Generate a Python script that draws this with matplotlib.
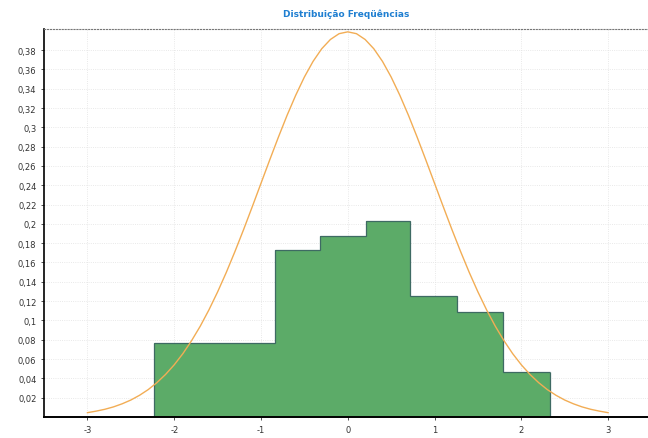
import matplotlib.pyplot as plt
from matplotlib.ticker import FuncFormatter

plt.rcParams["axes.unicode_minus"] = False

# histogram bins (edges) and relative frequencies
bin_edges = [-2.235, -0.84, -0.32, 0.215, 0.72, 1.26, 1.79, 2.33]
freqs = [0.077, 0.173, 0.187, 0.203, 0.125, 0.109, 0.047]

# normal curve points
curve_x = [-3.0, -2.9, -2.8, -2.7, -2.6, -2.5, -2.4, -2.3, -2.2, -2.1, -2.0,
           -1.9, -1.8, -1.7, -1.6, -1.5, -1.4, -1.3, -1.2, -1.1, -1.0,
           -0.9, -0.8, -0.7, -0.6, -0.5, -0.4, -0.3, -0.2, -0.1, 0.0,
           0.1, 0.2, 0.3, 0.4, 0.5, 0.6, 0.7, 0.8, 0.9, 1.0,
           1.1, 1.2, 1.3, 1.4, 1.5, 1.6, 1.7, 1.8, 1.9, 2.0,
           2.1, 2.2, 2.3, 2.4, 2.5, 2.6, 2.7, 2.8, 2.9, 3.0]
curve_y = [0.0044, 0.0060, 0.0079, 0.0104, 0.0136, 0.0175, 0.0224, 0.0283,
           0.0355, 0.0440, 0.0540, 0.0656, 0.0790, 0.0940, 0.1109, 0.1295,
           0.1497, 0.1714, 0.1942, 0.2179, 0.2420, 0.2661, 0.2897, 0.3123,
           0.3332, 0.3521, 0.3683, 0.3814, 0.3910, 0.3970, 0.3989,
           0.3970, 0.3910, 0.3814, 0.3683, 0.3521, 0.3332, 0.3123, 0.2897,
           0.2661, 0.2420, 0.2179, 0.1942, 0.1714, 0.1497, 0.1295, 0.1109,
           0.0940, 0.0790, 0.0656, 0.0540, 0.0440, 0.0355, 0.0283, 0.0224,
           0.0175, 0.0136, 0.0104, 0.0079, 0.0060, 0.0044]

y_ticks = [0.02, 0.04, 0.06, 0.08, 0.10, 0.12, 0.14, 0.16, 0.18, 0.20,
           0.22, 0.24, 0.26, 0.28, 0.30, 0.32, 0.34, 0.36, 0.38]
x_ticks = [-3, -2, -1, 0, 1, 2, 3]

fig = plt.figure(figsize=(6.48, 4.39), dpi=100)
ax = fig.add_axes([0.068, 0.048, 0.932, 0.884])

ax.stairs(freqs, bin_edges, fill=True, color="#5cab68", zorder=2)
ax.stairs(freqs, bin_edges, baseline=None, color="#3e6a63", linewidth=0.9, zorder=2.5)
ax.vlines([bin_edges[0], bin_edges[-1]], 0, [freqs[0], freqs[-1]],
          color="#3e6a63", linewidth=0.9, zorder=2.5)
ax.plot(curve_x, curve_y, color="#f2ad55", linewidth=1.0, zorder=3)

ax.set_xlim(-3.5, 3.46)
ax.set_ylim(0, 0.402)
ax.set_xticks(x_ticks)
ax.set_yticks(y_ticks)
ax.yaxis.set_major_formatter(FuncFormatter(lambda v, p: f"{v:.2f}".rstrip("0").replace(".", ",")))
ax.tick_params(labelsize=6, colors="#333333", length=2, width=0.6)

ax.grid(True, color="#e2e2e2", linestyle=":", linewidth=0.6, zorder=0)
ax.spines["right"].set_visible(False)
ax.spines["top"].set_linestyle(":")
ax.spines["top"].set_color("#777777")
ax.spines["left"].set_linewidth(1.2)
ax.spines["bottom"].set_linewidth(1.4)

ax.set_title("Distribuição Freqüências", fontsize=6.5, color="#1f7fd1",
             fontweight="bold", pad=9)

plt.savefig("out.png", dpi=100)
